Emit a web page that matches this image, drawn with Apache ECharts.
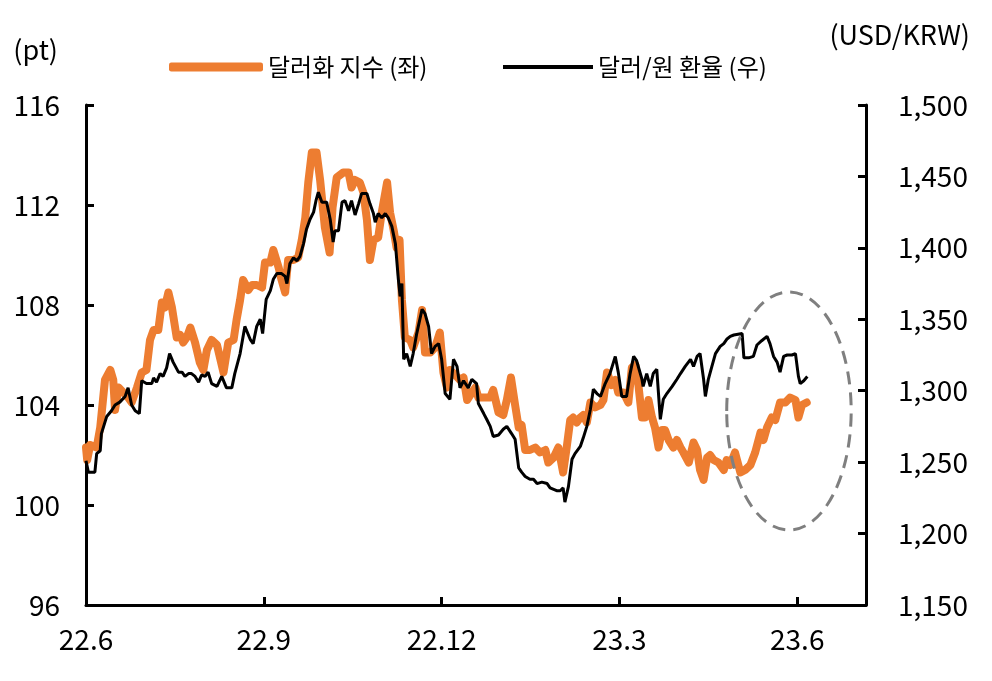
<!DOCTYPE html>
<html><head><meta charset="utf-8">
<script src="https://cdn.jsdelivr.net/npm/echarts@6/dist/echarts.min.js"></script>
<style>html,body{margin:0;padding:0;background:#fff}#c{width:992px;height:681px}</style>
</head><body><div id="c"></div>
<script>
// x positions are months since 2022-06 (0 = 22.6, 3 = 22.9, ...)
const tickLabels = ['22.6','22.9','22.12','23.3','23.6'];
const dxyX = [0,0.02,0.07,0.18,0.24,0.32,0.41,0.46,0.49,0.55,0.63,0.71,0.77,0.86,0.94,1.02,1.08,1.14,1.22,1.28,1.33,1.39,1.45,1.53,1.59,1.64,1.70,1.76,1.84,1.92,1.98,2.04,2.12,2.21,2.32,2.40,2.49,2.54,2.60,2.65,2.74,2.80,2.88,2.97,3.02,3.11,3.16,3.25,3.30,3.36,3.41,3.50,3.58,3.64,3.70,3.75,3.81,3.89,3.95,4.03,4.11,4.16,4.23,4.34,4.43,4.48,4.54,4.62,4.68,4.74,4.79,4.85,4.93,4.99,5.08,5.13,5.19,5.24,5.29,5.33,5.38,5.47,5.52,5.61,5.67,5.72,5.81,5.89,5.97,6.03,6.09,6.14,6.23,6.31,6.37,6.43,6.51,6.57,6.62,6.73,6.82,6.87,6.96,7.04,7.10,7.17,7.24,7.30,7.35,7.41,7.49,7.58,7.66,7.75,7.80,7.89,7.97,8.05,8.11,8.17,8.22,8.28,8.34,8.39,8.45,8.51,8.59,8.68,8.73,8.79,8.87,8.93,8.98,9.07,9.15,9.21,9.27,9.32,9.38,9.43,9.49,9.55,9.60,9.66,9.72,9.77,9.83,9.91,9.97,10.03,10.08,10.17,10.25,10.31,10.36,10.42,10.48,10.53,10.59,10.67,10.76,10.81,10.87,10.95,11.04,11.12,11.21,11.29,11.38,11.43,11.49,11.57,11.63,11.71,11.80,11.88,11.97,12.02,12.08,12.16];
const dxyY = [102.3,101.8,102.4,102.3,103.1,105.0,105.4,105.0,103.8,104.7,104.5,104.3,104.1,104.7,105.3,105.4,106.6,107.0,107.0,108.1,107.9,108.5,107.9,106.7,106.8,106.5,106.7,107.1,106.5,105.7,105.4,106.2,106.6,106.4,105.3,106.5,106.6,107.4,108.2,109.0,108.6,108.8,108.8,108.7,109.7,109.7,110.2,109.5,109.0,108.5,109.8,109.8,109.9,110.6,111.5,112.9,114.1,114.1,113.0,111.1,110.1,111.9,113.1,113.3,113.3,112.7,113.0,112.9,112.5,111.4,109.8,110.6,110.7,111.7,112.9,111.7,111.0,110.3,110.6,108.2,106.7,106.6,106.3,106.9,107.8,106.1,106.1,106.3,106.9,105.3,104.7,105.4,105.2,105.0,105.1,104.2,104.5,104.7,104.3,104.3,104.3,104.6,103.7,103.6,104.2,105.1,104.0,103.1,103.2,102.2,102.2,102.3,102.1,102.2,101.7,101.9,102.3,101.3,102.3,103.4,103.5,103.3,103.5,103.6,103.3,104.1,103.9,104.0,104.2,105.3,104.8,105.0,104.5,104.5,104.1,105.5,105.6,104.8,103.5,103.5,104.2,103.5,103.1,102.3,103.0,103.0,102.6,102.3,102.6,102.3,102.1,101.7,102.5,102.2,101.4,101.0,101.9,102.0,101.8,101.7,101.4,101.8,101.6,102.1,101.3,101.4,101.6,102.1,102.9,102.6,103.1,103.5,103.4,104.1,104.1,104.3,104.2,103.5,104.0,104.1];
const krwX = [0,0.04,0.15,0.18,0.24,0.26,0.35,0.43,0.49,0.57,0.66,0.71,0.77,0.83,0.90,0.94,1.02,1.11,1.14,1.19,1.25,1.30,1.36,1.41,1.47,1.56,1.62,1.67,1.73,1.78,1.84,1.90,1.95,2.01,2.06,2.12,2.21,2.29,2.37,2.46,2.51,2.60,2.68,2.77,2.82,2.88,2.94,2.98,3.04,3.11,3.16,3.22,3.30,3.36,3.39,3.44,3.50,3.56,3.61,3.67,3.72,3.78,3.84,3.88,3.92,3.98,4.06,4.12,4.17,4.20,4.26,4.32,4.37,4.43,4.48,4.54,4.60,4.65,4.74,4.79,4.85,4.88,4.93,4.99,5.05,5.10,5.16,5.22,5.24,5.27,5.30,5.33,5.36,5.41,5.47,5.52,5.58,5.67,5.72,5.78,5.83,5.89,5.95,6.00,6.06,6.14,6.20,6.26,6.31,6.37,6.45,6.51,6.59,6.62,6.71,6.76,6.82,6.87,6.96,7.04,7.10,7.18,7.24,7.30,7.35,7.41,7.49,7.55,7.61,7.69,7.78,7.83,7.94,8.00,8.05,8.08,8.14,8.20,8.25,8.34,8.39,8.45,8.51,8.56,8.62,8.68,8.76,8.84,8.93,8.98,9.04,9.12,9.18,9.24,9.29,9.38,9.40,9.46,9.52,9.57,9.63,9.69,9.74,9.80,9.89,9.97,10.03,10.11,10.20,10.25,10.31,10.36,10.42,10.45,10.50,10.56,10.62,10.70,10.76,10.81,10.87,10.93,11.07,11.10,11.18,11.26,11.32,11.40,11.49,11.54,11.60,11.66,11.71,11.77,11.83,11.91,11.97,12.02,12.05,12.11,12.17];
const krwY = [1251,1243,1243,1256,1258,1270,1282,1286,1290,1292,1296,1302,1290,1286,1284,1307,1305,1305,1309,1306,1312,1310,1316,1326,1320,1313,1313,1310,1312,1312,1310,1306,1311,1310,1313,1305,1303,1310,1302,1302,1312,1326,1345,1336,1333,1345,1350,1340,1364,1370,1378,1382,1382,1380,1375,1389,1393,1391,1394,1403,1413,1420,1425,1433,1439,1432,1432,1420,1404,1412,1412,1432,1433,1426,1433,1423,1431,1438,1438,1431,1424,1418,1424,1421,1424,1421,1415,1403,1403,1378,1366,1375,1322,1326,1317,1326,1340,1357,1354,1345,1326,1331,1333,1322,1298,1294,1322,1317,1302,1307,1302,1308,1305,1291,1284,1280,1275,1268,1269,1273,1275,1270,1266,1246,1243,1240,1238,1238,1235,1236,1235,1232,1230,1230,1232,1222,1233,1252,1256,1261,1267,1275,1287,1301,1298,1296,1305,1312,1324,1313,1296,1296,1312,1324,1321,1308,1303,1312,1303,1312,1315,1280,1294,1298,1303,1308,1312,1317,1322,1317,1324,1326,1308,1296,1308,1317,1326,1331,1333,1336,1338,1339,1340,1323,1323,1324,1332,1335,1338,1333,1324,1320,1313,1324,1325,1325,1326,1310,1305,1307,1310];
const seriesNames = ['달러화 지수 (좌)', '달러/원 환율 (우)'];
// highlight ellipse, in data units (x: months, y: left axis pt)
const highlight = {cx: 11.86, cy: 103.76, rx: 1.05, ry: 4.76};

const FONT = '"Noto Sans CJK KR", sans-serif';
const chart = echarts.init(document.getElementById('c'), null, {renderer: 'canvas'});
const axisLine = {show: true, lineStyle: {color: '#000', width: 3}};
const axisTick = {show: true, inside: true, length: 8, lineStyle: {color: '#000', width: 3}};
chart.setOption({
  animation: false,
  backgroundColor: '#fff',
  grid: {left: 86, right: 126, top: 105, bottom: 76, containLabel: false},
  legend: [
    {data: [{name: seriesNames[0], icon: 'roundRect'}], left: 164, top: 50, itemWidth: 94, itemHeight: 9,
     textStyle: {fontSize: 24, fontFamily: FONT, color: '#000'}, selectedMode: false},
    {data: [{name: seriesNames[1], icon: 'rect'}], left: 498, top: 50, itemWidth: 90, itemHeight: 4,
     textStyle: {fontSize: 24, fontFamily: FONT, color: '#000'}, selectedMode: false}
  ],
  xAxis: {
    type: 'value', min: 0, max: 13.16, interval: 3,
    axisLine, axisTick, splitLine: {show: false},
    axisLabel: {margin: 20, fontSize: 28, fontFamily: FONT, color: '#000', showMaxLabel: false,
      formatter: v => (Math.abs(v / 3 - Math.round(v / 3)) < 1e-6 ? (tickLabels[Math.round(v / 3)] || '') : '')}
  },
  yAxis: [
    {type: 'value', min: 96, max: 116, interval: 4, position: 'left',
     axisLine, axisTick, splitLine: {show: false},
     axisLabel: {margin: 26, fontSize: 28, fontFamily: FONT, color: '#000'}},
    {type: 'value', min: 1150, max: 1500, interval: 50, position: 'right',
     axisLine, axisTick, splitLine: {show: false},
     axisLabel: {margin: 32, fontSize: 28, fontFamily: FONT, color: '#000',
       formatter: v => v.toLocaleString('en-US')}}
  ],
  series: [
    {name: seriesNames[0], type: 'line', yAxisIndex: 0, showSymbol: false, z: 2,
     lineStyle: {color: '#ED7D31', width: 8, cap: 'round', join: 'round'}, itemStyle: {color: '#ED7D31'},
     data: dxyX.map((x, i) => [x, dxyY[i]])},
    {name: seriesNames[1], type: 'line', yAxisIndex: 1, showSymbol: false, z: 3,
     lineStyle: {color: '#000', width: 3}, itemStyle: {color: '#000'},
     data: krwX.map((x, i) => [x, krwY[i]])}
  ],
  graphic: [
    {type: 'text', right: 934, top: 36, style: {text: '(pt)', fontSize: 27, fontFamily: FONT, fill: '#000'}},
    {type: 'text', right: 22, top: 21, style: {text: '(USD/KRW)', fontSize: 27, fontFamily: FONT, fill: '#000'}}
  ]
});
const c = chart.convertToPixel({xAxisIndex: 0, yAxisIndex: 0}, [highlight.cx, highlight.cy]);
const e = chart.convertToPixel({xAxisIndex: 0, yAxisIndex: 0}, [highlight.cx + highlight.rx, highlight.cy - highlight.ry]);
chart.setOption({graphic: [{}, {}, {
  type: 'ellipse', shape: {cx: c[0], cy: c[1], rx: e[0] - c[0], ry: e[1] - c[1]}, z: 10,
  style: {fill: 'none', stroke: '#7f7f7f', lineWidth: 3, lineDash: [13, 8]}
}]});
</script></body></html>
